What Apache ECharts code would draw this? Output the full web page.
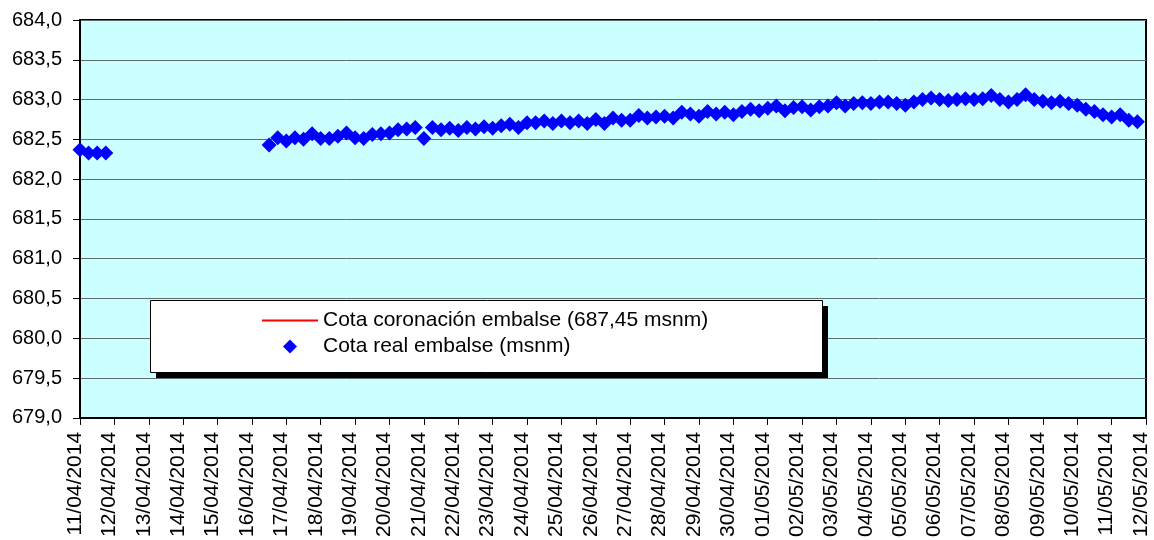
<!DOCTYPE html>
<html><head><meta charset="utf-8">
<script src="https://cdn.jsdelivr.net/npm/echarts@6/dist/echarts.min.js"></script>
<style>html,body{margin:0;padding:0;background:#fff}#c{width:1154px;height:540px}</style>
</head><body><div id="c"></div>
<script>
// ---- data ----
const seriesNames = ['Cota coronación embalse (687,45 msnm)', 'Cota real embalse (msnm)'];
const crestLevel = 687.45;
const startDate = '2014-04-11T00:00:00Z';   // first x tick
const endDate = '2014-05-12T00:00:00Z';     // last x tick
const stepHours = 6;                         // readings every 6 hours from startDate
// reservoir level (msnm), one reading every 6 h; null = no reading
const levels = [
  682.37, 682.33, 682.33, 682.33,
  null, null, null, null, null, null, null, null, null,
  null, null, null, null, null, null, null, null, null,
  682.43, 682.52, 682.48, 682.52, 682.50, 682.57, 682.51, 682.51, 682.54, 682.58,
  682.52, 682.51, 682.56, 682.57, 682.58, 682.62, 682.63, 682.65, 682.51, 682.65,
  682.62, 682.64, 682.61, 682.65, 682.63, 682.66, 682.64, 682.67, 682.69, 682.65,
  682.71, 682.71, 682.73, 682.70, 682.73, 682.71, 682.73, 682.70, 682.75, 682.70,
  682.77, 682.74, 682.74, 682.80, 682.77, 682.78, 682.79, 682.77, 682.84, 682.82,
  682.79, 682.85, 682.82, 682.84, 682.81, 682.85, 682.88, 682.86, 682.89, 682.92,
  682.86, 682.90, 682.91, 682.87, 682.91, 682.92, 682.96, 682.92, 682.95, 682.96,
  682.95, 682.97, 682.97, 682.95, 682.93, 682.97, 683.00, 683.02, 683.00, 682.99,
  683.00, 683.01, 683.00, 683.01, 683.05, 683.00, 682.97, 683.00, 683.06, 683.00,
  682.98, 682.96, 682.98, 682.95, 682.93, 682.88, 682.85, 682.81, 682.78, 682.81,
  682.74, 682.72
];
const yMin = 679, yMax = 684, yStep = 0.5;

// ---- chart ----
const DAY = 86400000;
const t0 = Date.parse(startDate), t1 = Date.parse(endDate);
const realData = [];
levels.forEach((v, i) => { if (v !== null) realData.push([t0 + i * stepHours * 3600000, v]); });
const crestData = [[t0, crestLevel], [t1, crestLevel]];
const FONT = '"Liberation Sans", Arial, sans-serif';
const pad = n => (n < 10 ? '0' : '') + n;
const legendText = {color: '#000', fontFamily: FONT, fontSize: 21, lineHeight: 21};

const chart = echarts.init(document.getElementById('c'), null, {renderer: 'canvas'});
chart.setOption({
  animation: false,
  backgroundColor: '#ffffff',
  grid: {left: 80, right: 8, top: 20, bottom: 122, show: true,
         backgroundColor: '#CCFFFF', borderColor: '#000', borderWidth: 2},
  xAxis: {
    type: 'value', min: t0, max: t1, interval: DAY,
    axisLine: {show: true, lineStyle: {color: '#000', width: 2}},
    axisTick: {show: true, length: 7, lineStyle: {color: '#000', width: 1}},
    splitLine: {show: false},
    axisLabel: {
      rotate: 90, margin: 14, interval: 0, showMinLabel: true, showMaxLabel: true,
      color: '#000', fontFamily: FONT, fontSize: 21, verticalAlign: 'bottom', lineHeight: 10,
      formatter: v => { const d = new Date(v); return pad(d.getUTCDate()) + '/' + pad(d.getUTCMonth() + 1) + '/' + d.getUTCFullYear(); }
    }
  },
  yAxis: {
    type: 'value', min: yMin, max: yMax, interval: yStep,
    axisLine: {show: true, lineStyle: {color: '#000', width: 2}},
    axisTick: {show: true, length: 7, lineStyle: {color: '#000', width: 1}},
    splitLine: {show: true, lineStyle: {color: '#5e6e6e', width: 1}},
    axisLabel: {margin: 18, color: '#000', fontFamily: FONT, fontSize: 20,
      formatter: v => v.toFixed(1).replace('.', ',')}
  },
  graphic: [
    {type: 'rect', z: 3, silent: true, shape: {x: 156, y: 306, width: 672, height: 72},
     style: {fill: '#000'}},
    {type: 'rect', z: 3, silent: true, shape: {x: 150.5, y: 300.5, width: 672, height: 72},
     style: {fill: '#fff', stroke: '#000', lineWidth: 1}}
  ],
  legend: [
    {left: 262, top: 310, padding: 0, itemWidth: 56, itemHeight: 2,
     textStyle: legendText, data: [{name: seriesNames[0], icon: 'rect'}]},
    {left: 283, top: 336, padding: 0, itemWidth: 14, itemHeight: 14,
     textStyle: Object.assign({}, legendText, {padding: [0, 0, 0, 21]}),
     data: [{name: seriesNames[1], icon: 'diamond'}]}
  ],
  series: [
    {name: seriesNames[0], type: 'line', data: crestData, symbol: 'none', showSymbol: false,
     lineStyle: {color: '#FF0000', width: 2}, itemStyle: {color: '#FF0000'}, clip: true},
    {name: seriesNames[1], type: 'scatter', data: realData, symbol: 'diamond', symbolSize: 15,
     itemStyle: {color: '#0000FF', opacity: 1}}
  ]
});
</script></body></html>
